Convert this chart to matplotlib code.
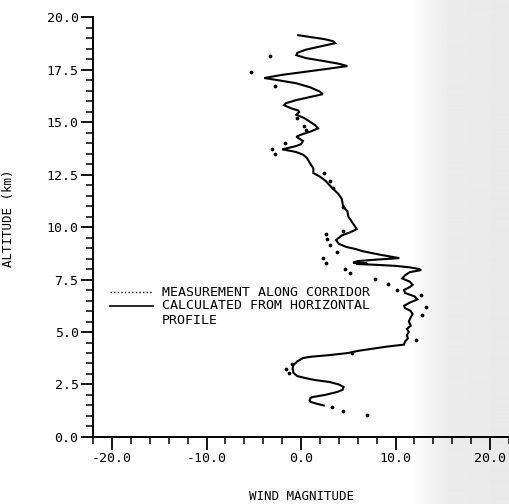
import matplotlib
matplotlib.use("Agg")
import matplotlib.pyplot as plt
import numpy as np
from matplotlib.ticker import MultipleLocator, FormatStrFormatter

plt.rcParams['font.family'] = ['DejaVu Sans Mono']

# profile calculated from horizontal winds: altitude (km) / wind magnitude
calc_alt = [19.14, 19.05, 18.95, 18.85, 18.76, 18.6, 18.45, 18.3, 18.19, 18.05,
            17.9, 17.78, 17.67, 17.55, 17.4, 17.25, 17.1, 17.0, 16.85, 16.65,
            16.45, 16.33, 16.2, 16.05, 15.9, 15.8, 15.65, 15.55, 15.48, 15.35,
            15.2, 15.0, 14.85, 14.7, 14.55, 14.4, 14.3, 14.1, 13.95, 13.86,
            13.75, 13.7, 13.62, 13.57, 13.45, 13.3, 13.15, 13.0, 12.8, 12.57,
            12.4, 12.2, 12.0, 11.86, 11.6, 11.35, 11.1, 10.95, 10.75, 10.5,
            10.3, 10.1, 9.9, 9.75, 9.6, 9.45, 9.38, 9.2, 9.05, 8.95,
            8.85, 8.75, 8.67, 8.6, 8.52, 8.45, 8.38, 8.3, 8.27, 8.24,
            8.2, 8.15, 8.08, 8.0, 7.95, 7.85, 7.7, 7.55, 7.4, 7.25,
            7.14, 7.0, 6.86, 6.7, 6.55, 6.4, 6.25, 6.14, 6.0, 5.85,
            5.7, 5.5, 5.3, 5.15, 5.0, 4.85, 4.7, 4.55, 4.4, 4.3,
            4.2, 4.1, 4.0, 3.9, 3.82, 3.76, 3.6, 3.43, 3.25, 3.05,
            2.9, 2.8, 2.71, 2.62, 2.5, 2.38, 2.25, 2.14, 2.0, 1.9,
            1.86, 1.75, 1.67, 1.58, 1.5]
calc_wind = [-0.3, 1.0, 2.5, 3.4, 3.6, 2.0, 0.5, -0.4, -0.5, 0.5,
             2.5, 4.0, 4.9, 3.0, 0.5, -2.0, -3.9, -2.5, -0.5, 1.0,
             2.0, 2.3, 1.0, -0.5, -1.6, -1.8, -1.0, -0.3, -0.2, -0.5,
             0.3, 1.0, 1.5, 1.8, 1.0, 0.0, -0.5, 0.2, 0.0, -0.5,
             -1.5, -2.0, -1.0, -0.5, 0.2, 0.6, 0.8, 1.0, 1.3, 1.3,
             2.0, 2.6, 3.0, 3.3, 3.9, 4.3, 4.4, 4.5, 4.9, 5.0,
             5.3, 5.6, 5.9, 5.2, 4.3, 3.9, 3.7, 4.0, 4.8, 5.8,
             6.5, 7.6, 8.5, 9.4, 10.4, 8.0, 6.0, 5.5, 7.0, 5.8,
             8.0, 10.0, 11.5, 12.5, 12.7, 11.5, 11.0, 10.7, 11.5, 11.8,
             11.5, 10.9, 11.0, 12.0, 12.3, 11.5, 10.9, 11.0, 11.6, 11.8,
             11.6, 11.4, 11.6, 11.2, 11.4, 11.2, 11.3, 11.0, 10.9, 9.0,
             7.5, 6.0, 5.0, 3.0, 1.0, 0.2, -0.4, -0.8, -0.9, -0.8,
             -0.4, 0.5, 1.5, 3.0, 4.0, 4.5, 4.4, 3.8, 2.5, 1.2,
             1.0, 0.9, 1.0, 1.7, 2.4]

# measurements along the corridor
meas_alt = [18.14, 17.38, 16.71, 15.19, 14.8, 14.62, 14.0, 13.7, 13.48, 12.57,
            12.19, 11.86, 10.95, 9.8, 9.67, 9.43, 9.14, 8.8, 8.52, 8.28,
            7.98, 7.81, 7.52, 7.3, 7.0, 6.76, 6.19, 5.8, 4.62, 4.0,
            3.48, 3.24, 3.05, 1.43, 1.24, 1.05]
meas_wind = [-3.3, -5.3, -2.8, -0.4, 0.3, 0.5, -1.7, -3.1, -2.8, 2.4,
             3.1, 3.4, 4.4, 4.4, 2.6, 2.7, 3.1, 3.85, 2.3, 2.6,
             4.7, 5.2, 7.8, 9.2, 10.2, 12.7, 13.2, 12.8, 12.2, 5.4,
             -1.0, -1.56, -1.25, 3.3, 4.4, 7.0]

fig = plt.figure(figsize=(5.09, 5.04), dpi=100)

# grey shading toward the right edge of the sheet
bg = fig.add_axes([0, 0, 1, 1], zorder=-10)
xs = np.linspace(0, 1, 509)
shade = np.interp(xs, [0, 0.81, 0.85, 0.88, 1.0], [1.0, 1.0, 0.95, 0.925, 0.915])
bg.imshow(np.tile(shade, (50, 1)), cmap='gray', vmin=0, vmax=1, aspect='auto',
          extent=[0, 1, 0, 1])
bg.axis('off')

ax = fig.add_axes([0.183, 0.133, 0.817, 0.833])
ax.patch.set_alpha(0)

ax.plot(calc_wind, calc_alt, color='black', lw=1.5, solid_joinstyle='miter')
ax.plot(meas_wind, meas_alt, ls='none', marker='o', ms=1.7, color='black')

ax.set_xlim(-22, 22)
ax.set_ylim(0, 20)
ax.xaxis.set_major_locator(MultipleLocator(10))
ax.xaxis.set_minor_locator(MultipleLocator(2))
ax.yaxis.set_major_locator(MultipleLocator(2.5))
ax.yaxis.set_minor_locator(MultipleLocator(0.5))
ax.xaxis.set_major_formatter(FormatStrFormatter('%.1f'))
ax.yaxis.set_major_formatter(FormatStrFormatter('%.1f'))

for s in ['top', 'right']:
    ax.spines[s].set_visible(False)
for s in ['left', 'bottom']:
    ax.spines[s].set_linewidth(1.4)

ax.tick_params(which='major', length=9, width=1.3, labelsize=9.5, pad=1.5)
ax.tick_params(which='minor', length=5, width=1.1)

ax.set_xlabel('WIND MAGNITUDE', fontsize=9)
ax.set_ylabel('ALTITUDE (km)', fontsize=9)
ax.xaxis.set_label_coords(0.5, -0.126)
ax.yaxis.set_label_coords(-0.1875, 0.52)

# hand-placed key
ax.plot([0.041, 0.144], [0.345, 0.345], transform=ax.transAxes, color='black',
        lw=1.0, ls=(0, (1, 1.6)))
ax.plot([0.041, 0.144], [0.312, 0.312], transform=ax.transAxes, color='black',
        lw=1.2)
ax.text(0.166, 0.345, 'MEASUREMENT ALONG CORRIDOR', transform=ax.transAxes,
        fontsize=9.5, va='center')
ax.text(0.166, 0.312, 'CALCULATED FROM HORIZONTAL', transform=ax.transAxes,
        fontsize=9.5, va='center')
ax.text(0.166, 0.277, 'PROFILE', transform=ax.transAxes,
        fontsize=9.5, va='center')

fig.savefig('out.png', dpi=100)
